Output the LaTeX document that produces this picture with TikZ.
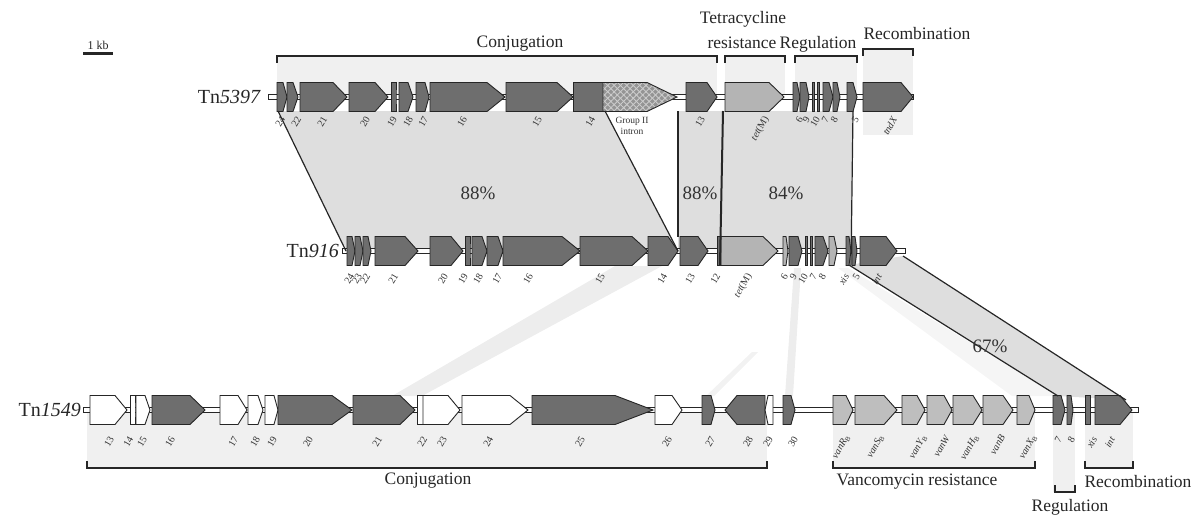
\documentclass[tikz,border=0pt]{standalone}
\usepackage{fontspec}
\setmainfont{Liberation Serif}
\usetikzlibrary{patterns.meta}
\definecolor{dk}{HTML}{6E6E6E}
\definecolor{lt}{HTML}{B4B4B4}
\definecolor{vn}{HTML}{BEBEBE}
\definecolor{ln}{HTML}{262626}
\definecolor{bandc}{HTML}{DEDEDE}
\definecolor{shd}{HTML}{F0F0F0}
\definecolor{fnt}{HTML}{EDEDED}
\newcounter{lab}
\def\gh{14.5}
\newcommand{\geneR}[5]{\draw[gene,fill=#5] (#1,{#4-\gh}) -- ({#2-#3},{#4-\gh}) -- (#2,#4) -- ({#2-#3},{#4+\gh}) -- (#1,{#4+\gh}) -- cycle;}
\newcommand{\geneL}[5]{\draw[gene,fill=#5] (#1,#4) -- ({#1+#3},{#4-\gh}) -- (#2,{#4-\gh}) -- (#2,{#4+\gh}) -- ({#1+#3},{#4+\gh}) -- cycle;}
\newcommand{\glab}[3]{\stepcounter{lab}\node[glabst] (L\arabic{lab}) at (#1,#2) {#3};}
\newcommand{\bbone}[3]{\draw[bb] (#1,{#3-2.6}) rectangle (#2,{#3+2.6});}
\newcommand{\brD}[3]{\draw[brk] (#1,{#3+7}) -- (#1,#3) -- (#2,#3) -- (#2,{#3+7});}
\newcommand{\brU}[3]{\draw[brk] (#1,{#3-7}) -- (#1,#3) -- (#2,#3) -- (#2,{#3-7});}
\tikzset{
 gene/.style={draw=ln, line width=0.9pt, line join=miter},
 bb/.style={draw=ln, line width=0.8pt, fill=white},
 glabst/.style={rotate=60, anchor=east, font=\fontsize{10}{10}\selectfont, inner sep=0.5pt, text=black!80},
 brk/.style={draw=ln, line width=1.6pt},
 sect/.style={font=\fontsize{17.5}{18}\selectfont, inner sep=0pt, text=black!85},
 pct/.style={font=\fontsize{19}{19}\selectfont, inner sep=0pt, text=black!80},
 tnst/.style={font=\fontsize{20}{20}\selectfont, anchor=east, inner sep=1pt, text=black!85},
 bandedge/.style={draw=ln, line width=1.2pt},
}
\begin{document}
\begin{tikzpicture}[x=1pt,y=-1pt]
\useasboundingbox (0,0) rectangle (1200,515);
% ---------- light shading under brackets
\fill[shd] (277,56) rectangle (717,97);
\fill[shd] (725,56) rectangle (785,97);
\fill[shd] (795,56) rectangle (857,97);
\fill[shd] (863,49) rectangle (913,135);
\fill[shd] (87,410) rectangle (767,468);
\fill[shd] (833,410) rectangle (1035,468);
\fill[shd] (1053,410) rectangle (1075,492);
\fill[shd] (1085,410) rectangle (1133,468);
% ---------- faint bands Tn916 -> Tn1549
\fill[fnt] (615,266) -- (662,266) -- (422,396) -- (392,396) -- cycle;
\fill[fnt] (794,268) -- (801,268) -- (793,396) -- (785,396) -- cycle;
\fill[black!5] (752,352) -- (758,352) -- (714,396) -- (706,396) -- cycle;
\fill[black!4] (838,268) -- (848,268) -- (1058,396) -- (1012,396) -- cycle;
% ---------- homology bands
\fill[bandc] (278,111) -- (605,111) -- (678,251) -- (346,251) -- cycle;
\fill[bandc] (678,111) -- (722,111) -- (721,251) -- (678,251) -- cycle;
\fill[bandc] (723,111) -- (853,111) -- (851,251) -- (721,251) -- cycle;
\fill[bandc] (849,265) -- (903,256) -- (1126,400) -- (1058,396) -- cycle;
% ---------- Tn5397
\bbone{268}{913}{97}
\geneR{277}{287}{4}{97}{dk}
\geneR{287}{298}{5}{97}{dk}
\geneR{300}{347}{14}{97}{dk}
\geneR{349}{388}{13}{97}{dk}
\geneR{391}{396}{0}{97}{dk}
\geneR{399}{413}{5}{97}{dk}
\geneR{416}{429}{4}{97}{dk}
\geneR{430}{505}{18}{97}{dk}
\geneR{506}{573}{16}{97}{dk}
\geneR{573}{603}{0}{97}{dk}
\fill[black!42] (603,82.5) -- (647,82.5) -- (677,97) -- (647,111.5) -- (603,111.5) -- cycle;
\fill[pattern={Lines[angle=45,distance=4.5pt,line width=0.9pt]},pattern color=white!80!black] (603,82.5) -- (647,82.5) -- (677,97) -- (647,111.5) -- (603,111.5) -- cycle;
\fill[pattern={Lines[angle=-45,distance=4.5pt,line width=0.9pt]},pattern color=white!80!black] (603,82.5) -- (647,82.5) -- (677,97) -- (647,111.5) -- (603,111.5) -- cycle;
\draw[gene] (603,82.5) -- (647,82.5) -- (677,97) -- (647,111.5) -- (603,111.5) -- cycle;
\geneR{686}{717}{10}{97}{dk}
\geneR{725}{784}{15}{97}{lt}
\geneR{793}{800}{3}{97}{dk}
\geneR{800}{809}{3}{97}{dk}
\geneR{812}{814.5}{0}{97}{dk}
\geneR{817}{819.5}{0}{97}{dk}
\geneR{823}{833}{4}{97}{dk}
\geneR{833}{840}{3}{97}{dk}
\geneR{847}{857}{4}{97}{dk}
\geneR{863}{913}{12}{97}{dk}
% ---------- Tn916
\bbone{342}{905}{251}
\geneR{347}{355}{3}{251}{dk}
\geneR{355}{363}{3}{251}{dk}
\geneR{363}{371}{3}{251}{dk}
\geneR{375}{418}{13}{251}{dk}
\geneR{430}{463}{12}{251}{dk}
\geneR{465}{470}{0}{251}{dk}
\geneR{472}{487}{5}{251}{dk}
\geneR{487}{503}{5}{251}{dk}
\geneR{503}{580}{18}{251}{dk}
\geneR{580}{648}{16}{251}{dk}
\geneR{648}{678}{10}{251}{dk}
\geneR{680}{708}{10}{251}{dk}
\geneR{717}{721}{0}{251}{dk}
\geneR{721}{778}{15}{251}{lt}
\geneR{783}{788}{2}{251}{lt}
\geneR{789}{802}{4}{251}{dk}
\geneR{805}{807.5}{0}{251}{dk}
\geneR{810}{812.5}{0}{251}{dk}
\geneR{815}{828}{5}{251}{dk}
\geneR{829}{837}{3}{251}{lt}
\geneR{846}{851}{2}{251}{dk}
\geneR{852}{857}{2}{251}{dk}
\geneR{860}{897}{11}{251}{dk}
% ---------- Tn1549
\bbone{83}{1138}{410}
\geneR{90}{127}{12}{410}{white}
\geneR{130}{135}{0}{410}{white}
\geneR{136}{150}{5}{410}{white}
\geneR{152}{205}{15}{410}{dk}
\geneR{220}{247}{9}{410}{white}
\geneR{248}{263}{5}{410}{white}
\geneR{265}{278}{4}{410}{white}
\geneR{278}{352}{20}{410}{dk}
\geneR{353}{415}{15}{410}{dk}
\geneR{417}{423}{0}{410}{white}
\geneR{423}{460}{12}{410}{white}
\geneR{462}{528}{18}{410}{white}
\geneR{532}{653}{38}{410}{dk}
\geneR{655}{682}{10}{410}{white}
\geneR{702}{715}{4}{410}{dk}
\geneL{725}{765}{12}{410}{dk}
\geneL{765}{773}{3}{410}{white}
\geneR{783}{795}{4}{410}{dk}
\geneR{833}{853}{7}{410}{vn}
\geneR{855}{897}{13}{410}{vn}
\geneR{902}{925}{8}{410}{vn}
\geneR{927}{952}{8}{410}{vn}
\geneR{953}{982}{9}{410}{vn}
\geneR{983}{1013}{10}{410}{vn}
\geneR{1017}{1035}{6}{410}{vn}
\geneR{1053}{1065}{4}{410}{dk}
\geneR{1067}{1073}{2}{410}{dk}
\geneR{1085}{1090}{0}{410}{dk}
\geneR{1095}{1132}{12}{410}{dk}
% ---------- band edges
\draw[bandedge] (278,111) -- (346,251);
\draw[bandedge] (605,111) -- (678,251);
\draw[bandedge] (678,111) -- (678,237);
\draw[draw=ln,line width=2pt] (723,111) -- (720,265);
\draw[bandedge] (853,111) -- (851,265);
\draw[bandedge] (849,265) -- (1058,396);
\draw[bandedge] (903,256) -- (1126,400);
\node[pct] (p1) at (478,193) {88\%};
\node[pct] (p2) at (700,193) {88\%};
\node[pct] (p3) at (786,193) {84\%};
\node[pct] (p4) at (990,346) {67\%};
% ---------- transposon names
\node[tnst] (t1) at (262,97) {Tn\textit{5397}};
\node[tnst] (t2) at (340,251) {Tn\textit{916}};
\node[tnst] (t3) at (82,410) {Tn\textit{1549}};
% ---------- scale bar
\node[font=\fontsize{12}{12}\selectfont, inner sep=0pt, text=black!85] (kb) at (98,45) {1 kb};
\draw[line width=3pt, draw=ln] (83,53) -- (113,53);
% ---------- brackets and sections
\brD{277}{717}{56}
\brD{725}{785}{56}
\brD{795}{857}{56}
\brD{863}{913}{49}
\node[sect] (s1) at (520,44) {Conjugation};
\node[sect] (s2) at (743,19) {Tetracycline};
\node[sect] (s3) at (742,43) {resistance};
\node[sect] (s4) at (818,44) {Regulation};
\node[sect] (s5) at (917,34) {Recombination};
\brU{87}{767}{468}
\brU{833}{1035}{468}
\brU{1055}{1075}{492}
\brU{1085}{1133}{468}
\node[sect] (s6) at (428,481) {Conjugation};
\node[sect] (s7) at (917,482) {Vancomycin resistance};
\node[sect] (s8) at (1070,507) {Regulation};
\node[sect] (s9) at (1138,482) {Recombination};
% ---------- gene labels Tn5397
\glab{283}{117}{24}
\glab{299}{117}{22}
\glab{325}{117}{21}
\glab{368}{117}{20}
\glab{395}{117}{19}
\glab{411}{117}{18}
\glab{426}{117}{17}
\glab{465}{117}{16}
\glab{540}{117}{15}
\glab{593}{117}{14}
\node[font=\fontsize{9.5}{10.5}\selectfont, align=center, inner sep=0pt, text=black!80] (gii) at (632,126) {Group II\\intron};
\glab{703}{117}{13}
\glab{767}{117}{\textit{tet}(M)}
\glab{801}{117}{6}
\glab{808}{117}{9}
\glab{818}{117}{10}
\glab{827}{117}{7}
\glab{836}{117}{8}
\glab{857}{117}{5}
\glab{895}{117}{\textit{tndX}}
% ---------- gene labels Tn916
\glab{352}{274}{24}
\glab{360}{274}{23}
\glab{368}{274}{22}
\glab{396}{274}{21}
\glab{446}{274}{20}
\glab{466}{274}{19}
\glab{481}{274}{18}
\glab{500}{274}{17}
\glab{531}{274}{16}
\glab{603}{274}{15}
\glab{665}{274}{14}
\glab{693}{274}{13}
\glab{718}{274}{12}
\glab{750}{274}{\textit{tet}(M)}
\glab{786}{274}{6}
\glab{795}{274}{9}
\glab{806}{274}{10}
\glab{815}{274}{7}
\glab{824}{274}{8}
\glab{847}{274}{\textit{xis}}
\glab{858}{274}{5}
\glab{880}{274}{\textit{int}}
% ---------- gene labels Tn1549
\glab{112}{437}{13}
\glab{131}{437}{14}
\glab{145}{437}{15}
\glab{173}{437}{16}
\glab{236}{437}{17}
\glab{258}{437}{18}
\glab{275}{437}{19}
\glab{311}{437}{20}
\glab{380}{437}{21}
\glab{425}{437}{22}
\glab{445}{437}{23}
\glab{491}{437}{24}
\glab{583}{437}{25}
\glab{670}{437}{26}
\glab{713}{437}{27}
\glab{751}{437}{28}
\glab{771}{437}{29}
\glab{796}{437}{30}
\glab{848}{435}{\textit{vanR}\textsubscript{B}}
\glab{882}{435}{\textit{vanS}\textsubscript{B}}
\glab{925}{435}{\textit{vanY}\textsubscript{B}}
\glab{948}{435}{\textit{vanW}}
\glab{977}{435}{\textit{vanH}\textsubscript{B}}
\glab{1003}{435}{\textit{vanB}}
\glab{1035}{435}{\textit{vanX}\textsubscript{B}}
\glab{1060}{437}{7}
\glab{1073}{437}{8}
\glab{1095}{437}{\textit{xis}}
\glab{1113}{437}{\textit{int}}
\end{tikzpicture}
\end{document}
